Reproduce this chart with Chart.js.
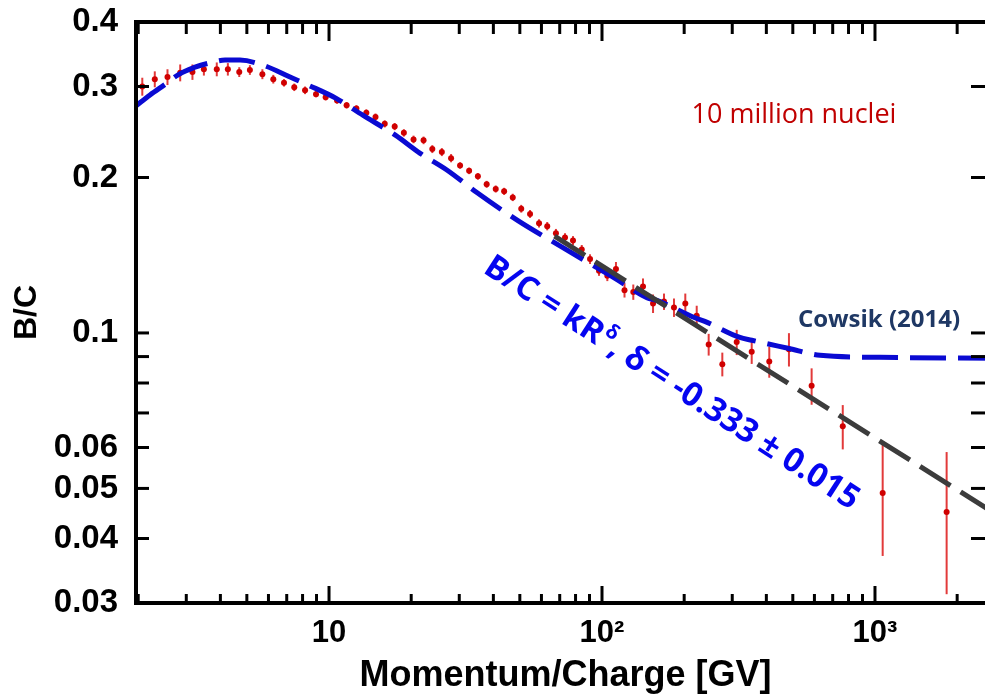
<!DOCTYPE html>
<html>
<head>
<meta charset="utf-8">
<script src="https://cdn.jsdelivr.net/npm/chart.js@4.4.1/dist/chart.umd.min.js"></script>
<style>
    html, body { margin: 0; padding: 0; background: #fff; overflow: hidden; }
</style>
</head>
<body>
<canvas id="bcChart" width="1000" height="698"></canvas>
<script>
// ----------- data -----------
// B/C measured points (rigidity in GV, ratio, error)
const bcX = [2.07, 2.30, 2.56, 2.85, 3.16, 3.48, 3.88, 4.26, 4.69, 5.13,
             5.70, 6.25, 6.84, 7.46, 8.17, 8.96, 9.72, 10.7, 11.6, 12.6,
             13.7, 14.8, 16.0, 17.4, 18.8, 20.4, 22.2, 23.9, 25.9, 28.0,
             30.2, 32.6, 35.1, 37.8, 40.8, 43.8, 47.1, 50.6, 54.5, 58.8,
             63.0, 67.8, 73.2, 78.3, 84.3, 90.4, 97.5, 104.6, 112.5, 120.9,
             130.2, 141.3, 153.8, 168.7, 183.5, 201.9, 222.3, 245.9, 275.9, 311.5,
             353.5, 410, 484, 586, 762, 1067, 1830];
const bcY = [0.300, 0.310, 0.313, 0.319, 0.320, 0.324, 0.324, 0.324, 0.320, 0.323,
             0.317, 0.310, 0.305, 0.299, 0.295, 0.290, 0.286, 0.282, 0.276, 0.272,
             0.267, 0.262, 0.254, 0.251, 0.244, 0.237, 0.236, 0.227, 0.224, 0.218,
             0.211, 0.206, 0.201, 0.194, 0.190, 0.188, 0.183, 0.174, 0.170, 0.163,
             0.161, 0.156, 0.153, 0.151, 0.145, 0.139, 0.132, 0.129, 0.133, 0.121,
             0.120, 0.123, 0.114, 0.115, 0.112, 0.114, 0.108, 0.095, 0.087, 0.096,
             0.092, 0.088, 0.093, 0.079, 0.066, 0.049, 0.045];
const bcErr = [0.012, 0.011, 0.011, 0.012, 0.011, 0.009, 0.010, 0.009, 0.007, 0.007,
               0.007, 0.006, 0.005, 0.005, 0.005, 0.004, 0.004, 0.004, 0.004, 0.004,
               0.004, 0.004, 0.004, 0.004, 0.004, 0.004, 0.004, 0.004, 0.004, 0.004,
               0.003, 0.003, 0.003, 0.003, 0.003, 0.003, 0.003, 0.003, 0.003, 0.003,
               0.003, 0.003, 0.003, 0.003, 0.003, 0.003, 0.003, 0.003, 0.0042, 0.0039,
               0.0041, 0.0045, 0.0047, 0.0042, 0.0046, 0.0052, 0.0049, 0.0046, 0.0046, 0.0054,
               0.0049, 0.0061, 0.0069, 0.0064, 0.0065, 0.012, 0.0138];

// Cowsik (2014) model curve
const cowsikX = [1.96, 2.21, 2.51, 2.80, 3.23, 3.76, 4.16, 4.72, 5.73, 7.20,
                 8.38, 10.7, 13.3, 17.5, 21.5, 27.1, 34.8, 49.2, 71.4, 100,
                 111.6, 146, 159, 219, 238, 320, 354, 480, 629, 1043, 2750];
const cowsikY = [0.275, 0.289, 0.303, 0.316, 0.327, 0.3345, 0.3375, 0.3375, 0.330, 0.313,
                 0.302, 0.284, 0.264, 0.2415, 0.223, 0.2066, 0.187, 0.165, 0.1466, 0.132,
                 0.1276, 0.117, 0.1156, 0.107, 0.1053, 0.098, 0.0968, 0.0934, 0.0905, 0.0897, 0.0893];

// power law fit, straight line in log-log (end points)
const fitX = [67, 2750];
const fitY = [0.154, 0.0447];

// ticks
const xTicks = [2, 3, 4, 5, 6, 7, 8, 9, 10, 20, 30, 40, 50, 60, 70, 80, 90,
                100, 200, 300, 400, 500, 600, 700, 800, 900, 1000, 2000];
const xLabelVals = [10, 100, 1000];
const xLabelText = ['10', '10²', '10³'];
const yTicks = [0.03, 0.04, 0.05, 0.06, 0.07, 0.08, 0.09, 0.1, 0.2, 0.3, 0.4];
const yLabelVals = [0.03, 0.04, 0.05, 0.06, 0.1, 0.2, 0.3, 0.4];

const toPts = (xs, ys) => xs.map((v, i) => ({ x: v, y: ys[i] }));
const axisFont = '"Liberation Sans", Arial, sans-serif';

// ----------- error bars (drawn under everything) -----------
const errorBars = {
    id: 'errorBars',
    beforeDatasetsDraw(chart) {
        const { ctx, scales: { x, y } } = chart;
        ctx.save();
        ctx.strokeStyle = '#e23a3a';
        ctx.lineWidth = 2;
        bcX.forEach((v, i) => {
            const px = x.getPixelForValue(v);
            ctx.beginPath();
            ctx.moveTo(px, y.getPixelForValue(bcY[i] + bcErr[i]));
            ctx.lineTo(px, y.getPixelForValue(bcY[i] - bcErr[i]));
            ctx.stroke();
        });
        ctx.restore();
    }
};

// ----------- frame with inward ticks + annotations -----------
const frameAndText = {
    id: 'frameAndText',
    afterDraw(chart) {
        const { ctx, chartArea: a, scales: { x, y } } = chart;
        const seg = (x1, y1, x2, y2) => {
            ctx.beginPath(); ctx.moveTo(x1, y1); ctx.lineTo(x2, y2); ctx.stroke();
        };
        ctx.save();
        ctx.strokeStyle = '#000';
        ctx.lineWidth = 3;
        xTicks.forEach(v => {
            const px = x.getPixelForValue(v);
            const major = xLabelVals.includes(v);
            seg(px, a.bottom, px, a.bottom - (major ? 17 : 9));
            seg(px, a.top, px, a.top + (major ? 19 : 12));
        });
        yTicks.forEach(v => {
            const py = y.getPixelForValue(v);
            seg(a.left, py, a.left + 13, py);
            seg(a.right, py, a.right - 24, py);
        });
        ctx.lineWidth = 4;
        ctx.strokeRect(a.left, a.top, a.right - a.left, a.bottom - a.top);

        // labels
        ctx.textAlign = 'center';
        ctx.textBaseline = 'alphabetic';
        ctx.fillStyle = '#c00000';
        ctx.font = '27px "Open Sans", sans-serif';
        ctx.fillText('10 million nuclei', 794, 123);

        ctx.fillStyle = '#1f3864';
        ctx.font = 'bold 24px "Open Sans", sans-serif';
        ctx.fillText('Cowsik (2014)', 879, 327);

        // rotated fit formula
        ctx.translate(482, 272);
        ctx.rotate(32.9 * Math.PI / 180);
        ctx.textAlign = 'left';
        ctx.fillStyle = '#0505f0';
        ctx.font = 'bold 33px "Open Sans", sans-serif';
        const part1 = 'B/C = kR';
        ctx.fillText(part1, 0, 0);
        let w = ctx.measureText(part1).width;
        ctx.font = 'bold 20px "Open Sans", sans-serif';
        ctx.fillText('δ', w + 1, -14);
        w += ctx.measureText('δ').width + 1;
        ctx.font = 'bold 33px "Open Sans", sans-serif';
        ctx.fillText(', δ = -0.333 ± 0.015', w, 0);
        ctx.restore();
    }
};

new Chart(document.getElementById('bcChart'), {
    type: 'scatter',
    data: {
        datasets: [
            {
                label: 'Fit', data: toPts(fitX, fitY), showLine: true,
                borderColor: '#3c3c3c', borderWidth: 5, borderDash: [36, 12],
                pointRadius: 0, order: 0
            },
            {
                label: 'Cowsik (2014)', data: toPts(cowsikX, cowsikY), showLine: true,
                borderColor: '#0a0ad2', borderWidth: 5, borderDash: [36, 12],
                cubicInterpolationMode: 'monotone', pointRadius: 0, order: 1
            },
            {
                label: 'B/C', data: toPts(bcX, bcY), showLine: false,
                backgroundColor: '#d00000', borderWidth: 0, pointRadius: 3, order: 2
            }
        ]
    },
    options: {
        responsive: false,
        animation: false,
        layout: { padding: { top: 22, right: 5, bottom: 0, left: 0 } },
        plugins: { legend: { display: false }, tooltip: { enabled: false } },
        scales: {
            x: {
                type: 'logarithmic', min: 1.963, max: 2752,
                afterBuildTicks: s => { s.ticks = xTicks.map(v => ({ value: v })); },
                afterFit: s => { s.height = 95; s.paddingLeft = 0; s.paddingRight = 0; },
                grid: { display: false, drawTicks: false },
                border: { display: false },
                ticks: {
                    autoSkip: false, maxRotation: 0, padding: 12, color: '#000',
                    font: { family: axisFont, size: 31, weight: 'bold' },
                    callback: v => {
                        const i = xLabelVals.indexOf(v);
                        return i < 0 ? '' : xLabelText[i];
                    }
                },
                title: {
                    display: true, text: 'Momentum/Charge [GV]', color: '#000',
                    font: { family: axisFont, size: 36, weight: 'bold' },
                    padding: { top: 0, bottom: 0 }
                }
            },
            y: {
                type: 'logarithmic', min: 0.03, max: 0.4,
                afterBuildTicks: s => { s.ticks = yTicks.map(v => ({ value: v })); },
                afterFit: s => { s.width = 136; s.paddingTop = 0; s.paddingBottom = 0; },
                grid: { display: false, drawTicks: false },
                border: { display: false },
                ticks: {
                    autoSkip: false, padding: 18, color: '#000',
                    font: { family: axisFont, size: 33, weight: 'bold' },
                    callback: v => yLabelVals.includes(v) ? String(v) : ''
                },
                title: {
                    display: true, text: 'B/C', color: '#000',
                    font: { family: axisFont, size: 32, weight: 'bold' },
                    padding: { top: 8, bottom: 0 }
                }
            }
        }
    },
    plugins: [errorBars, frameAndText]
});
</script>
</body>
</html>
